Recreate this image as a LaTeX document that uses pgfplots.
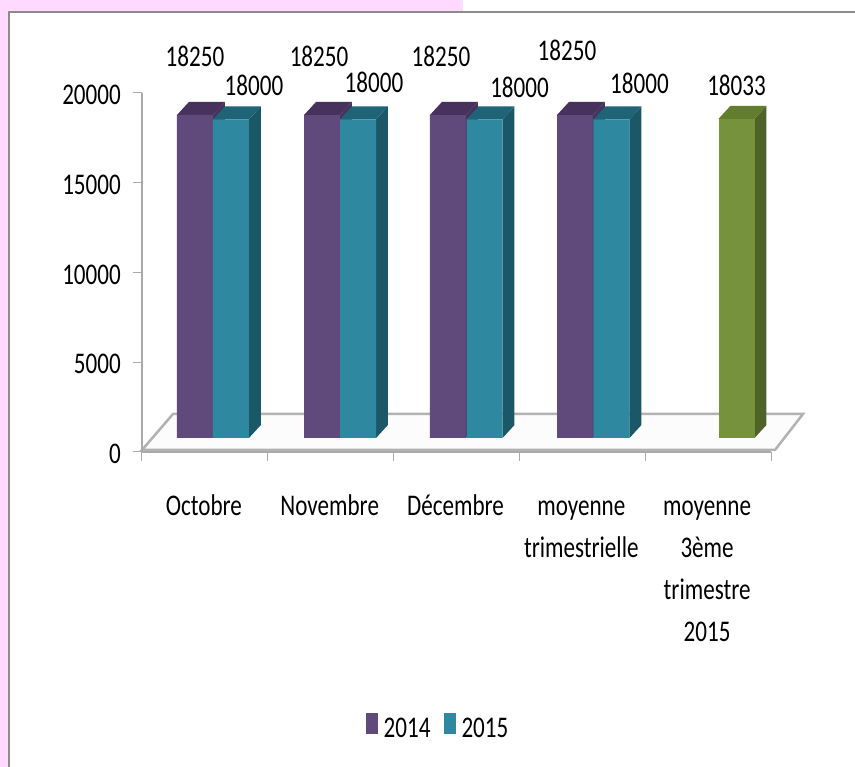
\documentclass[border=0pt]{standalone}
\usepackage{fontspec}
\setmainfont[FakeStretch=0.77]{Carlito}
\usepackage{pgfplots}
\usepackage{pgfplotstable}
\pgfplotsset{compat=1.18}
\definecolor{pinkbg}{RGB}{255,217,255}
\definecolor{frameg}{RGB}{140,140,140}
\definecolor{axisg}{RGB}{170,170,170}
\definecolor{floorg}{RGB}{178,178,178}
\definecolor{pfront}{RGB}{96,74,123}
\definecolor{ptop}{RGB}{70,50,92}
\definecolor{tfront}{RGB}{46,136,160}
\definecolor{ttop}{RGB}{30,100,118}
\definecolor{tside}{RGB}{26,88,104}
\definecolor{gfront}{RGB}{118,146,60}
\definecolor{gtop}{RGB}{98,125,46}
\definecolor{gside}{RGB}{79,98,40}

% x: group position, y: value, dx/dy: label offset in px
\pgfplotstableread{
x      y      dx  dy
0.421  18250  0   59
1.431  18250  -3  59
2.432  18250  -7  59
3.442  18250  -8  65
}\seriesA
\pgfplotstableread{
x      y      dx  dy
0.707  18000  23  34
1.717  18000  16  37
2.723  18000  35  32
3.732  18000  28  36
}\seriesB
\pgfplotstableread{
x      y      dx  dy
4.726  18033  0   33
}\seriesC

% depth faces of one bar: {x}{value}{value+depth}{top colour}{side colour}
\newcommand{\depthfaces}[5]{%
  \pgfmathsetmacro{\xl}{#1-0.143}\pgfmathsetmacro{\xr}{#1+0.143}%
  \pgfmathsetmacro{\xlb}{\xl+0.095}\pgfmathsetmacro{\xrb}{\xr+0.095}%
  \addplot[forget plot,draw=none,fill=#5] coordinates {(\xr,0) (\xrb,734) (\xrb,#3) (\xr,#2)} -- cycle;
  \addplot[forget plot,draw=none,fill=#4] coordinates {(\xl,#2) (\xlb,#3) (\xrb,#3) (\xr,#2)} -- cycle;
}
\pgfplotsset{
  valuebar/.style={ybar,bar width=36pt,bar shift=0pt,draw=none,
    nodes near coords,
    visualization depends on={\thisrow{dx} \as \dxv},
    visualization depends on={\thisrow{dy} \as \dyv},
    every node near coord/.append style={anchor=center,xshift=\dxv pt,yshift=\dyv pt,text=black}},
}
\AtBeginDocument{\fontsize{30}{42}\selectfont}

\begin{document}
\begin{tikzpicture}[x=1pt,y=1pt]
\useasboundingbox (0,0) rectangle (855,767);
\fill[white] (0,0) rectangle (855,767);
\fill[pinkbg] (0,0) rectangle (9,767);
\fill[pinkbg] (0,755) rectangle (463,767);
\draw[frameg,line width=2.5pt] (9,0) -- (9,755) -- (855,755);

% floor
\fill[black!1] (142,317) -- (173,353) -- (803,353) -- (775,317) -- cycle;
\draw[floorg,line width=2.5pt] (142,317) -- (173,353) -- (803,353) -- (775,317) -- cycle;

\begin{axis}[
    name=main,
    scale only axis,
    width=629pt,
    height=359pt,
    at={(142pt,315pt)},
    anchor=south west,
    xmin=0,xmax=5,
    ymin=0,ymax=20000,
    axis x line*=bottom,
    axis y line*=left,
    axis line style={axisg,line width=1.5pt},
    xtick={0,1,2,3,4,5},
    x tick label as interval,
    xticklabels={\strut Octobre,\strut Novembre,\strut Décembre,\strut moyenne\\trimestrielle,\strut moyenne\\3ème\\trimestre\\2015},
    x tick label style={align=center,anchor=north,yshift=-15pt,xshift=-1pt},
    scaled y ticks=false,
    ytick={0,5000,10000,15000,20000},
    yticklabel style={xshift=-2pt,yshift=-2pt},
    tick align=outside,
    major tick length=9pt,
    tick style={axisg,line width=1pt},
    /pgf/number format/1000 sep={},
    /pgf/number format/assume math mode=true,
]
\end{axis}

\begin{axis}[
    scale only axis,
    width=629pt,
    height=359pt,
    at={(142pt,315pt)},
    anchor=south west,
    xmin=0,xmax=5,
    ymin=-791,ymax=19492,
    hide axis,
    clip=false,
    /pgf/number format/1000 sep={},
    /pgf/number format/assume math mode=true,
    legend style={at={(0.4706,-0.771)},anchor=center,draw=none,fill=none,
      legend columns=2,/tikz/every even column/.append style={column sep=11pt}},
    legend image code/.code={\fill[#1] (0pt,-4pt) rectangle (12pt,17pt);\path (16pt,0pt);},
]
\depthfaces{0.421}{18250}{18984}{ptop}{ptop}
\addplot[valuebar,fill=pfront] table[x=x,y=y] {\seriesA};
\addlegendentry{2014}
\depthfaces{1.431}{18250}{18984}{ptop}{ptop}
\depthfaces{2.432}{18250}{18984}{ptop}{ptop}
\depthfaces{3.442}{18250}{18984}{ptop}{ptop}
\depthfaces{0.707}{18000}{18734}{ttop}{tside}
\depthfaces{1.717}{18000}{18734}{ttop}{tside}
\depthfaces{2.723}{18000}{18734}{ttop}{tside}
\depthfaces{3.732}{18000}{18734}{ttop}{tside}
\addplot[valuebar,fill=tfront] table[x=x,y=y] {\seriesB};
\addlegendentry{2015}
\depthfaces{4.726}{18033}{18767}{gtop}{gside}
\addplot[valuebar,fill=gfront,forget plot] table[x=x,y=y] {\seriesC};
\end{axis}
\end{tikzpicture}
\end{document}
